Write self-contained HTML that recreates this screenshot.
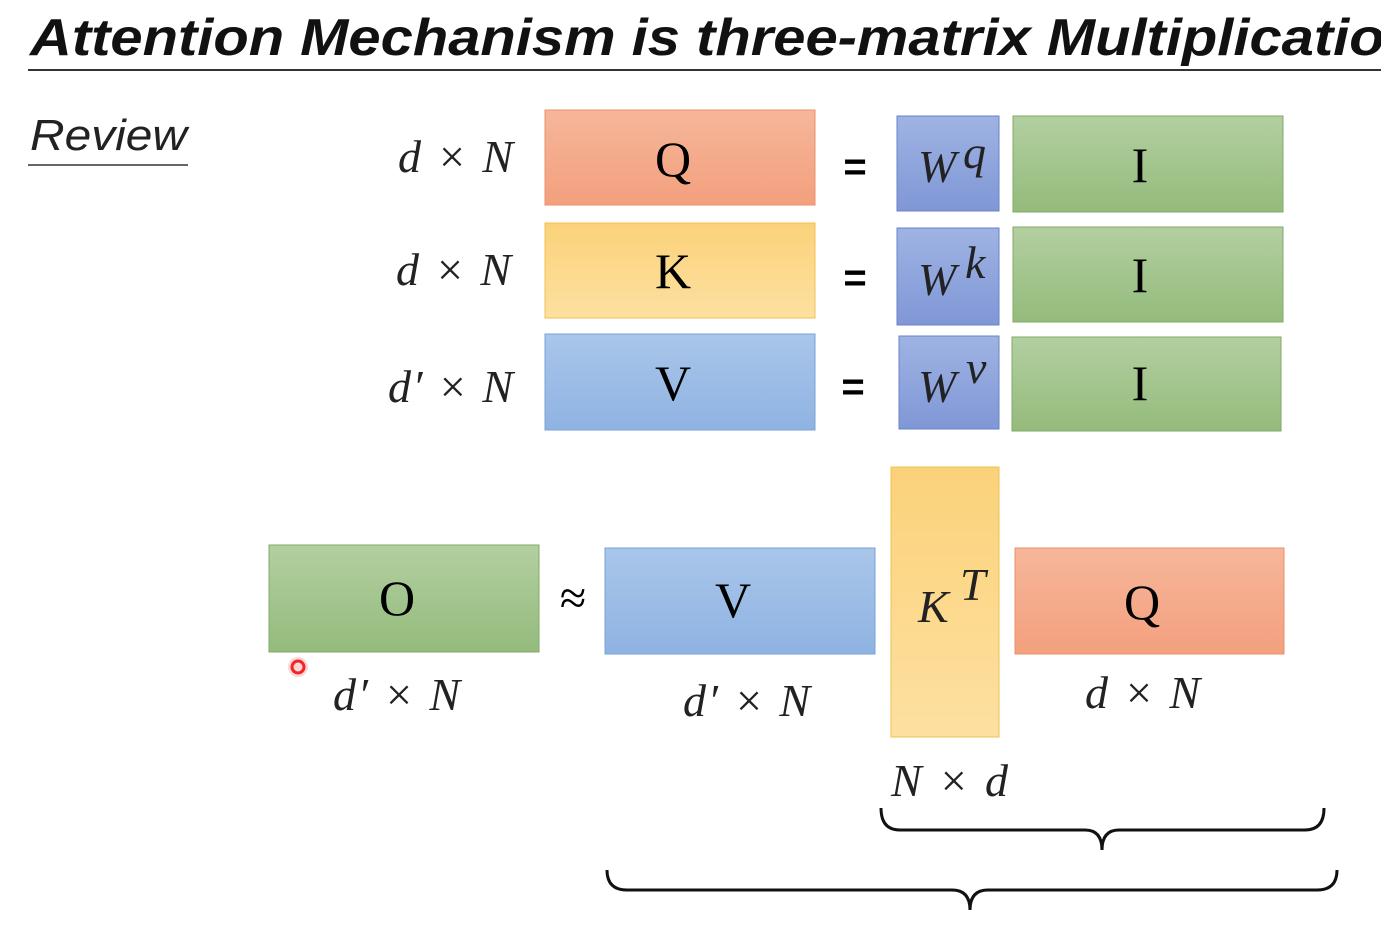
<!DOCTYPE html>
<html><head><meta charset="utf-8">
<style>
html,body{margin:0;padding:0;background:#fff;width:1381px;height:929px;overflow:hidden}
svg{display:block}
.t{font-family:"Liberation Serif",serif}
.m{font-family:"Liberation Serif",serif;font-style:italic;font-size:46px;fill:#222}
</style></head><body>
<svg width="1381" height="929" viewBox="0 0 1381 929">
<defs>
<linearGradient id="go" x1="0" y1="0" x2="0" y2="1"><stop offset="0" stop-color="#f6b69a"/><stop offset="1" stop-color="#f3a07e"/></linearGradient>
<linearGradient id="gy" x1="0" y1="0" x2="0" y2="1"><stop offset="0" stop-color="#fbd27a"/><stop offset="1" stop-color="#fde0a0"/></linearGradient>
<linearGradient id="gb" x1="0" y1="0" x2="0" y2="1"><stop offset="0" stop-color="#a9c6ea"/><stop offset="1" stop-color="#8fb3e2"/></linearGradient>
<linearGradient id="gw" x1="0" y1="0" x2="0" y2="1"><stop offset="0" stop-color="#9fb3e3"/><stop offset="1" stop-color="#8097d6"/></linearGradient>
<linearGradient id="gg" x1="0" y1="0" x2="0" y2="1"><stop offset="0" stop-color="#b2cfa0"/><stop offset="1" stop-color="#94bb7c"/></linearGradient>
</defs>
<text x="30" y="55" font-family="Liberation Sans, sans-serif" font-weight="bold" font-style="italic" font-size="52" fill="#111" textLength="1390" lengthAdjust="spacingAndGlyphs">Attention Mechanism is three-matrix Multiplication</text>
<line x1="28" y1="70" x2="1381" y2="70" stroke="#333" stroke-width="2"/>
<text x="30" y="150" font-family="Liberation Sans, sans-serif" font-style="italic" font-size="44" fill="#222" textLength="157" lengthAdjust="spacingAndGlyphs">Review</text>
<line x1="28" y1="165" x2="188" y2="165" stroke="#333" stroke-width="1.5"/>

<g>
<text class="m" x="398" y="172" textLength="115">d × N</text>
<rect x="545" y="110" width="270" height="95" fill="url(#go)" stroke="#e8906a"/>
<text class="t" x="673" y="176" text-anchor="middle" font-size="50">Q</text>
<text x="855" y="180" text-anchor="middle" font-family="Liberation Sans,sans-serif" font-weight="bold" font-size="40">=</text>
<rect x="897" y="116" width="102" height="95" fill="url(#gw)" stroke="#6a82c8"/>
<text class="m" x="918" y="182">W</text><text class="m" x="963" y="168" font-size="26">q</text>
<rect x="1013" y="116" width="270" height="96" fill="url(#gg)" stroke="#82aa6a"/>
<text class="t" x="1140" y="182" text-anchor="middle" font-size="50">I</text>
</g>
<g>
<text class="m" x="396" y="285" textLength="115">d × N</text>
<rect x="545" y="223" width="270" height="95" fill="url(#gy)" stroke="#f0c050"/>
<text class="t" x="673" y="288" text-anchor="middle" font-size="50">K</text>
<text x="855" y="291" text-anchor="middle" font-family="Liberation Sans,sans-serif" font-weight="bold" font-size="40">=</text>
<rect x="897" y="228" width="102" height="97" fill="url(#gw)" stroke="#6a82c8"/>
<text class="m" x="918" y="295">W</text><text class="m" x="965" y="278" font-size="26">k</text>
<rect x="1013" y="227" width="270" height="95" fill="url(#gg)" stroke="#82aa6a"/>
<text class="t" x="1140" y="292" text-anchor="middle" font-size="50">I</text>
</g>
<g>
<text class="m" x="388" y="402" textLength="125">d′ × N</text>
<rect x="545" y="334" width="270" height="96" fill="url(#gb)" stroke="#7aa0d6"/>
<text class="t" x="673" y="400" text-anchor="middle" font-size="50">V</text>
<text x="853" y="400" text-anchor="middle" font-family="Liberation Sans,sans-serif" font-weight="bold" font-size="40">=</text>
<rect x="899" y="336" width="100" height="93" fill="url(#gw)" stroke="#6a82c8"/>
<text class="m" x="918" y="402">W</text><text class="m" x="966" y="383" font-size="26">v</text>
<rect x="1012" y="337" width="269" height="94" fill="url(#gg)" stroke="#82aa6a"/>
<text class="t" x="1140" y="400" text-anchor="middle" font-size="50">I</text>
</g>

<g>
<rect x="269" y="545" width="270" height="107" fill="url(#gg)" stroke="#82aa6a"/>
<text class="t" x="397" y="615" text-anchor="middle" font-size="50">O</text>
<text class="m" x="333" y="710" textLength="127">d′ × N</text>
<text class="t" x="573" y="614" text-anchor="middle" font-size="48">≈</text>
<rect x="605" y="548" width="270" height="106" fill="url(#gb)" stroke="#7aa0d6"/>
<text class="t" x="733" y="617" text-anchor="middle" font-size="50">V</text>
<text class="m" x="683" y="716" textLength="127">d′ × N</text>
<rect x="891" y="467" width="108" height="270" fill="url(#gy)" stroke="#f0c050"/>
<text class="m" x="918" y="622">K</text><text class="m" x="960" y="600" font-size="28">T</text>
<text class="m" x="891" y="796" textLength="117">N × d</text>
<rect x="1015" y="548" width="269" height="106" fill="url(#go)" stroke="#e8906a"/>
<text class="t" x="1142" y="619" text-anchor="middle" font-size="50">Q</text>
<text class="m" x="1085" y="708" textLength="115">d × N</text>
</g>
<path d="M881 808 Q881 830 900 830 L1085 830 Q1102 830 1102 850 Q1102 830 1119 830 L1305 830 Q1324 830 1324 808" fill="none" stroke="#111" stroke-width="3"/>
<path d="M607 870 Q607 890 627 890 L952 890 Q970 890 970 910 Q970 890 988 890 L1317 890 Q1337 890 1337 870" fill="none" stroke="#111" stroke-width="3"/>
<circle cx="298" cy="667" r="6" fill="none" stroke="#e22" stroke-width="3"/>
<circle cx="298" cy="667" r="10" fill="#f33" opacity="0.2"/>
</svg>
</body></html>
